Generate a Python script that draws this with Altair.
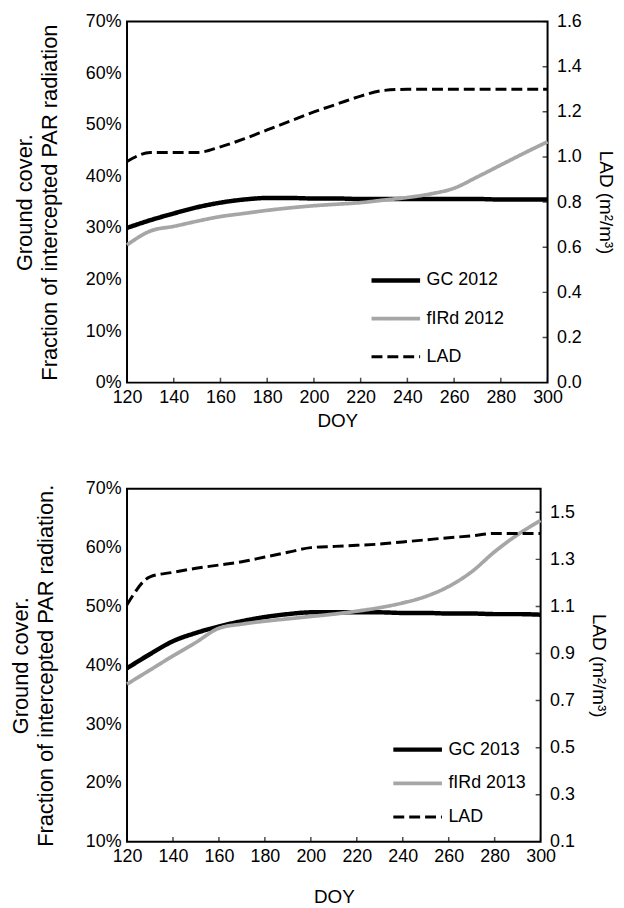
import altair as alt
import pandas as pd

# ---- data ----
doy = [120, 130, 140, 150, 160, 170, 180, 190, 200, 210, 220, 230, 240, 250, 260, 270, 280, 290, 300]

gc_2012 = [30.0, 31.5, 32.8, 34.0, 34.9, 35.5, 35.8, 35.8, 35.7, 35.7, 35.6, 35.6, 35.6, 35.6, 35.6, 35.6, 35.5, 35.5, 35.5]
fird_2012 = [26.7, 29.4, 30.3, 31.3, 32.2, 32.8, 33.4, 33.9, 34.3, 34.6, 34.9, 35.4, 35.9, 36.6, 37.7, 39.9, 42.2, 44.5, 46.7]
lad_2012 = [0.98, 1.02, 1.02, 1.02, 1.045, 1.08, 1.12, 1.16, 1.20, 1.235, 1.27, 1.295, 1.30, 1.30, 1.30, 1.30, 1.30, 1.30, 1.30]

gc_2013 = [39.5, 41.9, 44.1, 45.5, 46.6, 47.5, 48.2, 48.7, 49.0, 49.0, 49.0, 49.0, 48.9, 48.9, 48.8, 48.8, 48.7, 48.7, 48.6]
fird_2013 = [36.8, 39.2, 41.6, 43.9, 46.3, 47.0, 47.5, 47.9, 48.3, 48.7, 49.2, 49.8, 50.6, 51.7, 53.4, 55.9, 59.3, 62.2, 64.6]
lad_2013 = [1.107, 1.226, 1.245, 1.262, 1.276, 1.29, 1.31, 1.33, 1.35, 1.355, 1.36, 1.365, 1.374, 1.383, 1.392, 1.40, 1.41, 1.41, 1.41]

x_ticks = [120, 140, 160, 180, 200, 220, 240, 260, 280, 300]
left_ticks_2012 = [0, 0.1, 0.2, 0.3, 0.4, 0.5, 0.6, 0.7]
right_ticks_2012 = [0.0, 0.2, 0.4, 0.6, 0.8, 1.0, 1.2, 1.4, 1.6]
left_ticks_2013 = [0.1, 0.2, 0.3, 0.4, 0.5, 0.6, 0.7]
right_ticks_2013 = [0.1, 0.3, 0.5, 0.7, 0.9, 1.1, 1.3, 1.5]

FONT = "Liberation Sans"


def panel(year, gc, fird, lad, left_dom, left_ticks, right_dom, right_ticks,
          left_title, w, h, leg_x, leg_y, leg_row, left_pad, doy_pad):
    s_gc, s_fi, s_lad = f"GC {year}", f"fIRd {year}", "LAD"
    dom = [s_gc, s_fi, s_lad]
    df_l = pd.DataFrame({
        "doy": doy + doy,
        "val": [v / 100 for v in gc] + [v / 100 for v in fird],
        "series": [s_gc] * len(doy) + [s_fi] * len(doy),
    })
    df_r = pd.DataFrame({"doy": doy, "val": lad, "series": [s_lad] * len(doy)})
    df_xt = pd.DataFrame({"t": x_ticks})
    df_yt = pd.DataFrame({"rt": right_ticks, "edge": [x_ticks[-1]] * len(right_ticks)})

    xscale = alt.Scale(domain=[120, 300], nice=False, zero=False)
    lscale = alt.Scale(domain=left_dom, nice=False, zero=False)
    rscale = alt.Scale(domain=right_dom, nice=False, zero=False)
    xaxis = alt.Axis(values=x_ticks, title="DOY", ticks=False, labelFlush=False,
                     labelPadding=6, titlePadding=doy_pad, domain=False, grid=False)
    x = alt.X("doy:Q", scale=xscale, axis=xaxis)

    color = alt.Color("series:N", scale=alt.Scale(domain=dom, range=["#000000", "#a6a6a6", "#000000"]),
                      legend=alt.Legend(title=None, orient="none", legendX=leg_x, legendY=leg_y,
                                        symbolType="stroke", symbolSize=2400, clipHeight=20,
                                        rowPadding=leg_row, labelOffset=4, labelFontSize=18,
                                        labelFont=FONT, labelColor="black", labelLimit=200))
    dash = alt.StrokeDash("series:N", scale=alt.Scale(domain=dom, range=[[1, 0], [1, 0], [11, 5]]))
    sw = alt.StrokeWidth("series:N", scale=alt.Scale(domain=dom, range=[4.5, 3, 4]))

    left = alt.Chart(df_l).mark_line(interpolate="monotone").encode(
        x=x,
        y=alt.Y("val:Q", scale=lscale,
                axis=alt.Axis(values=left_ticks, format=".0%", title=left_title, ticks=False,
                              labelPadding=6, titlePadding=left_pad, titleFontSize=22,
                              titleLineHeight=25, grid=False, domain=False)),
        color=color, strokeDash=dash, strokeWidth=sw,
    )
    right = alt.Chart(df_r).mark_line(interpolate="monotone").encode(
        x=x,
        y=alt.Y("val:Q", scale=rscale,
                axis=alt.Axis(values=right_ticks, format=".1f", orient="right",
                              title="LAD (m²/m³)", ticks=False,
                              labelPadding=9, titlePadding=14, domain=False, grid=False)),
        color=color, strokeDash=dash, strokeWidth=sw,
    )
    # inward tick marks on the bottom edge (outer half clipped away)
    xt = alt.Chart(df_xt).mark_tick(orient="vertical", size=10, thickness=1.5, color="black",
                                    clip=True).encode(
        x=alt.X("t:Q", scale=xscale, axis=xaxis),
        y=alt.YDatum(left_dom[0], scale=lscale, axis=None),
    )
    # inward tick marks on the right (LAD) edge (outer half clipped away)
    yt = alt.Chart(df_yt).mark_tick(orient="horizontal", size=10, thickness=1.5, color="black",
                                    clip=True).encode(
        x=alt.X("edge:Q", scale=xscale, axis=xaxis),
        y=alt.Y("rt:Q", scale=rscale, axis=None),
    )
    return alt.layer(left, right, xt, yt).resolve_scale(y="independent").properties(width=w, height=h)


top = panel(2012, gc_2012, fird_2012, lad_2012, [0, 0.7], left_ticks_2012, [0, 1.6],
            right_ticks_2012, ["Ground cover.", "Fraction of intercepted PAR radiation"],
            424, 364, 244, 251, 18.5, 24, 5)
bottom = panel(2013, gc_2013, fird_2013, lad_2013, [0.1, 0.7], left_ticks_2013, [0.1, 1.6],
               right_ticks_2013, ["Ground cover.", "Fraction of intercepted PAR radiation."],
               417, 356, 266, 253, 14, 28, 22)

chart = alt.vconcat(top, bottom, spacing=48).resolve_scale(
    color="independent", strokeDash="independent", strokeWidth="independent"
).resolve_legend(color="independent", strokeDash="independent", strokeWidth="independent").configure(
    font=FONT, padding=0
).configure_view(stroke="black", strokeWidth=2).configure_axis(
    labelFont=FONT, titleFont=FONT, labelFontSize=18, titleFontSize=19,
    labelColor="black", titleColor="black", titleFontWeight="normal"
)

chart.save("out.html", embed_options={"renderer": "svg", "actions": False})
